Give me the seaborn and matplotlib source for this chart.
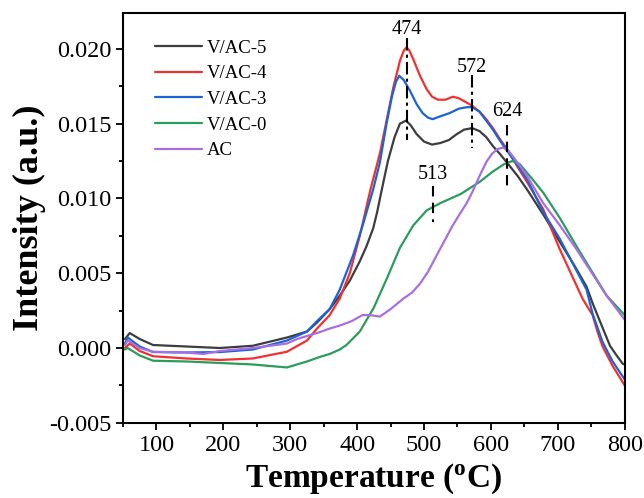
import numpy as np
import pandas as pd
import matplotlib
matplotlib.use("Agg")
import matplotlib.pyplot as plt
import seaborn as sns

# ---- data (temperature in degC, intensity in a.u.) ----
t_v5 = [53, 60, 75, 95, 120, 145, 195, 244, 295, 325, 340, 359, 374, 389, 404, 414, 424, 430, 436, 446, 456, 464, 473,
        480, 489, 500, 512, 524, 537, 549, 560, 572, 583, 593, 603, 613, 624, 640, 654, 680, 703, 725, 743, 752,
        762, 778, 788, 797, 800]
i_v5 = [0.0006, 0.0010, 0.0006, 0.0002, 0.00015, 0.0001, 0.0000, 0.00015, 0.0007, 0.0011, 0.0017, 0.0026, 0.0035,
        0.0045, 0.0058, 0.0068, 0.0080, 0.0091, 0.0104, 0.0125, 0.0141, 0.0150, 0.0152,
        0.0149, 0.0143, 0.0138, 0.0136, 0.0137, 0.0139, 0.0143, 0.0146, 0.0147, 0.0145, 0.0141, 0.0135, 0.0130,
        0.0124, 0.0115, 0.0106, 0.0088, 0.0071, 0.0055, 0.0041, 0.0030, 0.0019, 0.00015, -0.0005, -0.00105, -0.0011]

t_v4 = [53, 60, 75, 95, 145, 195, 244, 295, 325, 340, 359, 374, 389, 404, 420, 434, 444, 454, 464, 470, 474, 478,
        484, 494, 504, 512, 521, 532, 543, 552, 564, 572, 583, 593, 603, 613, 624, 640, 654, 678, 703, 737, 752,
        760, 767, 782, 800]
i_v4 = [0.0000, 0.0003, -0.0002, -0.00055, -0.0007, -0.0008, -0.0007, -0.00025, 0.0005, 0.0013, 0.0022, 0.0033,
        0.0050, 0.0075, 0.0106, 0.0130, 0.0152, 0.0174, 0.0192, 0.0199, 0.0201, 0.0199,
        0.0193, 0.0182, 0.0173, 0.0168, 0.0166, 0.0166, 0.0168, 0.0167, 0.0164, 0.0162, 0.0158, 0.0153, 0.0147,
        0.0140, 0.0133, 0.0121, 0.0111, 0.0093, 0.0066, 0.0033, 0.0022, 0.0010, 0.0001, -0.0012, -0.0025]

t_v3 = [53, 57, 75, 95, 145, 195, 244, 295, 325, 340, 359, 374, 394, 409, 424, 434, 444, 452, 458, 463, 470, 479,
        489, 498, 506, 513, 525, 538, 552, 564, 572, 583, 593, 603, 613, 624, 640, 654, 678, 703, 743, 752, 767,
        782, 800]
i_v3 = [0.0003, 0.0007, 0.0001, -0.00027, -0.0003, -0.00027, -0.0001, 0.0005, 0.0011, 0.0018, 0.0026, 0.0039,
        0.0062, 0.0083, 0.0106, 0.0124, 0.0150, 0.0168, 0.0178, 0.0182, 0.0179, 0.0172,
        0.0163, 0.0157, 0.0154, 0.0153, 0.0155, 0.0157, 0.0160, 0.0161, 0.0161, 0.0158, 0.0152, 0.0146, 0.0139,
        0.0132, 0.0122, 0.0113, 0.0091, 0.0073, 0.0039, 0.0023, 0.0004, -0.0009, -0.0021]

t_v0 = [53, 57, 75, 95, 145, 195, 244, 295, 325, 344, 359, 374, 384, 404, 425, 444, 464, 484, 504, 525, 555, 583,
        603, 620, 632, 643, 660, 678, 703, 728, 773, 800]
i_v0 = [-0.0001, 0.0000, -0.0005, -0.00085, -0.0009, -0.0010, -0.0011, -0.0013, -0.0009, -0.0006, -0.0004, -0.0001,
        0.0002, 0.0011, 0.0027, 0.0046, 0.0067, 0.0082, 0.0092, 0.0097, 0.0103, 0.0111,
        0.0118, 0.0123, 0.0125, 0.0123, 0.0114, 0.0104, 0.0087, 0.0068, 0.0035, 0.0022]

t_ac = [53, 57, 75, 95, 145, 170, 195, 244, 295, 310, 340, 359, 374, 392, 408, 419, 434, 450, 469, 482, 494, 506,
        519, 531, 543, 554, 564, 573, 584, 594, 602, 610, 618, 626, 633, 643, 654, 678, 703, 728, 773, 800]
i_ac = [0.0002, 0.0005, 0.0000, -0.00025, -0.0003, -0.0004, -0.0002, 0.0000, 0.0003, 0.0006, 0.0010, 0.0013, 0.0015,
        0.0018, 0.0022, 0.0022, 0.0021, 0.0026, 0.0033, 0.0037, 0.0043, 0.0051,
        0.0062, 0.0072, 0.0082, 0.0090, 0.0097, 0.0105, 0.0116, 0.0125, 0.0130, 0.0133, 0.0134, 0.0132, 0.0128,
        0.0122, 0.0115, 0.0097, 0.0082, 0.0066, 0.0035, 0.0019]

labels = ["V/AC-5", "V/AC-4", "V/AC-3", "V/AC-0", "AC"]
colors = ["#3d3d3d", "#f23030", "#1c63d8", "#2a9d5c", "#a86fe0"]

peak_t = [474, 572, 624, 513]
peak_text_y = [0.02127, 0.01873, 0.0158, 0.0116]
peak_line_y = [(0.02073, 0.01393), (0.01827, 0.0134), (0.01493, 0.01047), (0.0108, 0.0084)]
peak_style = [(0, (6, 2, 1.5, 2)), (0, (6, 2, 1.5, 2)), (0, (5, 3)), (0, (5, 3))]

frames = []
for lab, t, v in zip(labels, [t_v5, t_v4, t_v3, t_v0, t_ac], [i_v5, i_v4, i_v3, i_v0, i_ac]):
    frames.append(pd.DataFrame({"T": t, "I": v, "sample": lab}))
df = pd.concat(frames, ignore_index=True)

sns.set_style("ticks")
plt.rcParams["font.family"] = ["Liberation Serif", "DejaVu Serif"]
plt.rcParams["mathtext.fontset"] = "custom"
plt.rcParams["mathtext.rm"] = "Liberation Serif"
plt.rcParams["mathtext.bf"] = "Liberation Serif:bold"
for k in ["text.color", "axes.labelcolor", "xtick.color", "ytick.color", "axes.edgecolor"]:
    plt.rcParams[k] = "black"

fig = plt.figure(figsize=(6.44, 4.98), dpi=100)
ax = fig.add_axes([0.191, 0.151, 0.779, 0.823])

sns.lineplot(data=df, x="T", y="I", hue="sample", hue_order=labels,
             palette=colors, estimator=None, sort=True, linewidth=1.6, ax=ax)

for t, ty, (y0, y1), ls in zip(peak_t, peak_text_y, peak_line_y, peak_style):
    ax.plot([t, t], [y0, y1], color="black", lw=1.5, linestyle=ls)
    ax.text(t, ty, str(t), ha="center", va="center", fontsize=14.5)

ax.set_xlim(50, 800)
ax.set_ylim(-0.005, 0.0224)
ax.set_xticks(np.arange(100, 801, 100))
ax.set_xticks(np.arange(50, 801, 50), minor=True)
ax.set_yticks(np.arange(-0.005, 0.0201, 0.005))
ax.set_yticks(np.arange(-0.005, 0.0224, 0.0025), minor=True)
ax.set_yticklabels(["-0.005", "0.000", "0.005", "0.010", "0.015", "0.020"])
ax.tick_params(which="major", direction="out", length=5, width=1.3, labelsize=17.5)
ax.tick_params(which="minor", direction="out", length=3, width=1.3)
for s in ax.spines.values():
    s.set_linewidth(1.5)

ax.set_xlabel(r"Temperature ($\mathbf{^o}$C)", fontsize=24, fontweight="bold", labelpad=4)
ax.set_ylabel("Intensity (a.u.)", fontsize=26, fontweight="bold", labelpad=2)

ax.legend(loc="upper left", bbox_to_anchor=(0.049, 0.953), frameon=False,
          fontsize=13.5, handlelength=2.5, handletextpad=0.25, labelspacing=0.45,
          borderaxespad=0)

fig.savefig("out.png", dpi=100)
